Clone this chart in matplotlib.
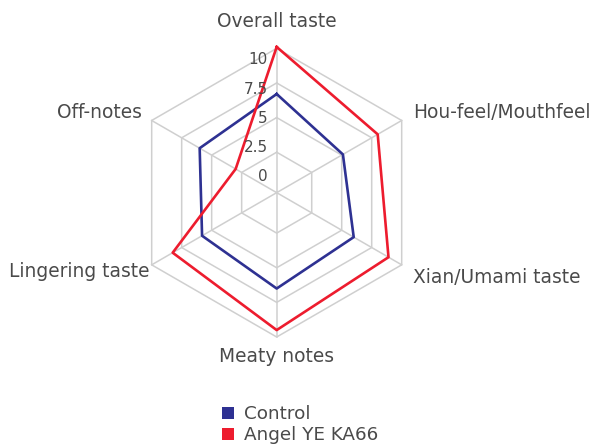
import numpy as np
import matplotlib
matplotlib.use("Agg")
import matplotlib.pyplot as plt
from matplotlib.patches import Patch
from matplotlib.transforms import offset_copy

categories = ["Overall taste", "Hou-feel/Mouthfeel", "Xian/Umami taste",
              "Meaty notes", "Lingering taste", "Off-notes"]
control = [6.7, 5.1, 6.0, 6.5, 5.8, 6.0]
angel = [10.1, 8.0, 8.9, 9.5, 8.25, 3.0]
series_names = ["Control", "Angel YE KA66"]
ticks = [0, 2.5, 5, 7.5, 10]
tick_labels = ["0", "2.5", "5", "7.5", "10"]

BLUE = "#2e3192"
RED = "#ed1c2e"
GRID = "#cfcfcf"
TEXT = "#4a4a4a"
RMIN = -0.42
RMAX = 11.0

fig = plt.figure(figsize=(6.03, 4.48), dpi=100)
ax = fig.add_axes([0.1965, 0.2168, 0.5247, 0.7063], projection="polar")
ax.set_theta_offset(np.pi / 2)
ax.set_theta_direction(-1)
ax.set_ylim(RMIN, RMAX)
ax.grid(False)
ax.set_xticks([])
ax.set_yticks([])
ax.spines["polar"].set_visible(False)
ax.patch.set_alpha(0)

n = len(categories)
angles = np.linspace(0, 2 * np.pi, n, endpoint=False)
closed = np.append(angles, angles[0])

# hexagon rings + spokes
for t in ticks[1:]:
    ax.plot(closed, [t] * (n + 1), color=GRID, lw=1.1, zorder=1)
for a in angles:
    ax.plot([a, a], [RMIN, ticks[-1]], color=GRID, lw=1.1, zorder=1)

ax.plot(closed, control + control[:1], color=BLUE, lw=1.9, zorder=3)
ax.plot(closed, angel + angel[:1], color=RED, lw=1.9, zorder=4)

# radial tick labels (sit a little off the rings, as in the source)
tick_r = [0.74, 2.83, 4.95, 7.03, 9.16]
trans = offset_copy(ax.transData, fig=fig, x=-9, y=0, units="dots")
for r, lbl in zip(tick_r, tick_labels):
    ax.text(0, r, lbl, transform=trans, ha="right", va="center",
            fontsize=11, color=TEXT, zorder=5)

# category labels
label_pos = [(0, 11.9, "center"), (np.radians(59.7), 10.98, "left"),
             (np.radians(122), 11.2, "left"), (np.pi, 11.44, "center"),
             (np.radians(238), 10.37, "right"), (np.radians(300.6), 10.88, "right")]
for (a, r, ha), name in zip(label_pos, categories):
    ax.text(a, r, name, ha=ha, va="center", fontsize=13.4, color=TEXT)

handles = [Patch(facecolor=BLUE, edgecolor="none"), Patch(facecolor=RED, edgecolor="none")]
leg = fig.legend(handles, series_names, loc="upper left", frameon=False, fontsize=13.2,
                 handlelength=0.65, handleheight=0.65, handletextpad=0.55,
                 labelspacing=0.18, borderpad=0, labelcolor=TEXT)
leg.set_bbox_to_anchor((213 / 603, 1 - 396 / 448), transform=fig.transFigure)

fig.savefig("out.png", dpi=100)
